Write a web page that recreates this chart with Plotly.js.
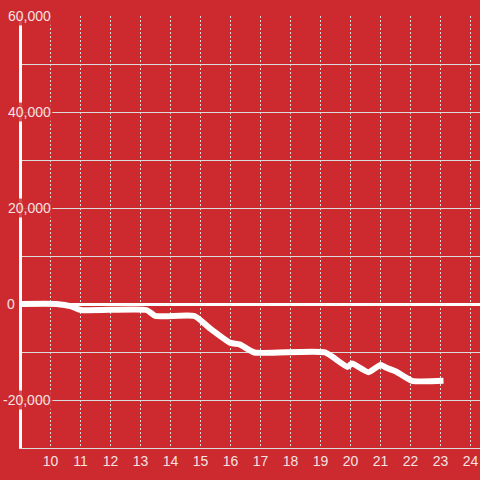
<!DOCTYPE html>
<html>
<head>
<meta charset="utf-8">
<script src="https://cdn.plot.ly/plotly-3.0.1.min.js"></script>
<style>html,body{margin:0;padding:0;background:#cc2a2f;}#chart{width:480px;height:480px;}</style>
</head>
<body>
<div id="chart"></div>
<script>
// Hour of day
const hours = [9, 10.2, 10.7, 11.0, 13.2, 13.5, 14.8, 15.3, 16.0, 16.3, 16.8, 19.15, 19.9, 20.05, 20.6, 21.0, 21.2, 21.5, 22.05, 23.1];
// Cumulative value
const values = [0, 0, -500, -1250, -1250, -2500, -2500, -5000, -8100, -8400, -10100, -10100, -13100, -12400, -14200, -12700, -13300, -14000, -16000, -16000];
// Axis ticks
const xTicks = [10, 11, 12, 13, 14, 15, 16, 17, 18, 19, 20, 21, 22, 23, 24];
const yTickValues = [60000, 40000, 20000, 0, -20000];
const yTickLabels = ['60,000', '40,000', '20,000', '0', '-20,000'];

const RED = '#cc2a2f';
const PALE = '#f4e2e2';
const FONT = '"Liberation Sans", Arial, sans-serif';

const annotations = yTickValues.map((v, i) => ({
  xref: 'paper', yref: 'y',
  x: v === 0 ? -0.0109 : 0.0666,
  y: v,
  xanchor: 'right', yanchor: 'middle',
  text: yTickLabels[i],
  showarrow: false,
  bgcolor: 'rgba(204,42,47,0.85)',
  borderpad: 1,
  font: {family: FONT, size: 14, color: PALE}
}));

const trace = {
  x: hours, y: values,
  type: 'scatter', mode: 'lines',
  line: {color: '#ffffff', width: 6, shape: 'spline', smoothing: 0.5},
  hoverinfo: 'skip'
};

const layout = {
  width: 480, height: 480,
  paper_bgcolor: RED, plot_bgcolor: RED,
  margin: {l: 22, r: 0, t: 16, b: 32},
  showlegend: false,
  font: {family: FONT, size: 14, color: PALE},
  xaxis: {
    range: [9.05, 24.317],
    tickvals: xTicks,
    ticktext: xTicks.map(String),
    showgrid: true, gridcolor: '#dcdcdc', gridwidth: 1, griddash: '2px,2px',
    zeroline: false,
    showline: true, linecolor: '#dcdcdc', linewidth: 1,
    ticks: '',
    tickfont: {family: FONT, size: 14, color: PALE},
    fixedrange: true
  },
  yaxis: {
    range: [-30000, 60000],
    dtick: 10000, tick0: 0,
    showticklabels: false,
    showgrid: true, gridcolor: '#dcdcdc', gridwidth: 1,
    zeroline: true, zerolinecolor: '#ffffff', zerolinewidth: 3,
    showline: true, linecolor: '#ffffff', linewidth: 3,
    ticks: '',
    fixedrange: true
  },
  annotations: annotations
};

Plotly.newPlot('chart', [trace], layout, {displayModeBar: false, staticPlot: true});
</script>
</body>
</html>
